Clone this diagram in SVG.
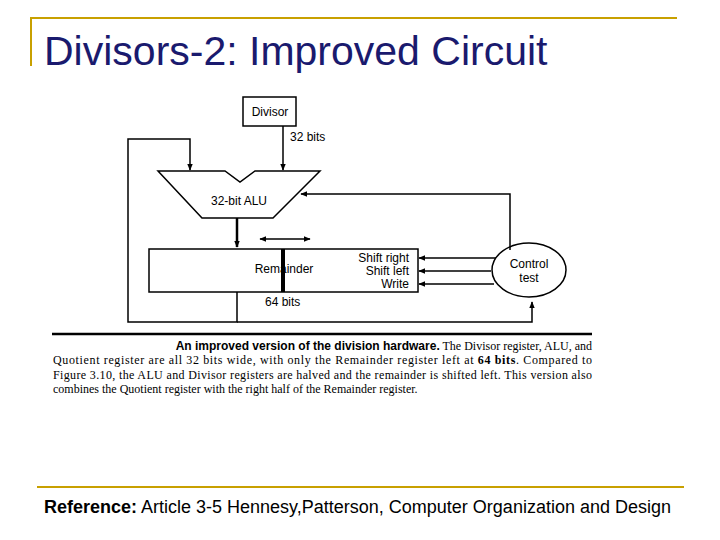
<svg xmlns="http://www.w3.org/2000/svg" width="720" height="540" viewBox="0 0 720 540">
<style>
.d{font-family:"Liberation Sans",Arial,sans-serif;font-size:12px;fill:#000}
.l{stroke:#000;stroke-width:1.5;fill:none}
.c{font-family:"Liberation Serif","Times New Roman",serif;font-size:12px;fill:#000}
</style>
<defs><marker id="a" viewBox="0 0 10 10" refX="9" refY="5" markerWidth="7" markerHeight="7" orient="auto-start-reverse" markerUnits="userSpaceOnUse"><path d="M0,1L10,5L0,9z" fill="#000"/></marker></defs>
<rect width="720" height="540" fill="#fff"/>
<path d="M31,66V18H677" stroke="#c8a000" stroke-width="2" fill="none"/>
<line x1="37" y1="487" x2="684" y2="487" stroke="#c8a000" stroke-width="2"/>
<text x="44" y="65" font-family="Liberation Sans,Arial,sans-serif" font-size="41" fill="#1a1a6e">Divisors-2: Improved Circuit</text>
<g id="connectors">
<path class="l" d="M283,126V170" marker-end="url(#a)"/>
<path class="l" d="M237,292V322H128V139H190V170" marker-end="url(#a)"/>
<path class="l" d="M237,322H532V302" marker-end="url(#a)"/>
<path style="stroke:#000;stroke-width:2.5;fill:none" d="M237,218V247" marker-end="url(#a)"/>
<path class="l" d="M260,239H310" marker-start="url(#a)" marker-end="url(#a)"/>
<path class="l" d="M510,250V194H301" marker-end="url(#a)"/>
<path class="l" d="M496,258H419" marker-end="url(#a)"/>
<path class="l" d="M491,271H419" marker-end="url(#a)"/>
<path class="l" d="M494,284H419" marker-end="url(#a)"/>
</g>
<g id="divisor"><rect x="243" y="97" width="53" height="29" class="l" fill="#fff"/><text x="270" y="116" text-anchor="middle" class="d">Divisor</text><text x="290" y="141" class="d">32 bits</text></g>
<g id="alu"><path class="l" d="M158,171H225L240,182L255,171H320L273,218H202Z"/><text x="239" y="205" text-anchor="middle" class="d">32-bit ALU</text></g>
<g id="remainder"><rect x="149" y="249" width="269" height="43" class="l"/><text x="284" y="273" text-anchor="middle" class="d">Remainder</text><line x1="283" y1="249" x2="283" y2="292" stroke="#000" stroke-width="4"/><text x="265" y="306" class="d">64 bits</text>
<text x="409" y="262" text-anchor="end" class="d">Shift right</text><text x="409" y="275" text-anchor="end" class="d">Shift left</text><text x="409" y="288" text-anchor="end" class="d">Write</text></g>
<g id="control"><ellipse cx="529" cy="270" rx="37" ry="27" class="l"/><text x="529" y="268" text-anchor="middle" class="d">Control</text><text x="529" y="282" text-anchor="middle" class="d">test</text></g>
<line x1="52" y1="334" x2="592" y2="334" stroke="#000" stroke-width="2.5"/>
<text class="c" x="592" y="350" text-anchor="end"><tspan font-family="Liberation Sans,Arial,sans-serif" font-weight="bold" font-size="12">An improved version of the division hardware.</tspan> The Divisor register, ALU, and</text>
<text class="c" x="53" y="364" textLength="539">Quotient register are all 32 bits wide, with only the Remainder register left at <tspan font-weight="bold">64 bits</tspan>. Compared to</text>
<text class="c" x="53" y="379" textLength="539">Figure 3.10, the ALU and Divisor registers are halved and the remainder is shifted left. This version also</text>
<text class="c" x="53" y="393">combines the Quotient register with the right half of the Remainder register.</text>
<text x="44" y="513" font-family="Liberation Sans,Arial,sans-serif" font-size="18"><tspan font-weight="bold">Reference:</tspan> Article 3-5 Hennesy,Patterson, Computer Organization and Design</text>
</svg>
